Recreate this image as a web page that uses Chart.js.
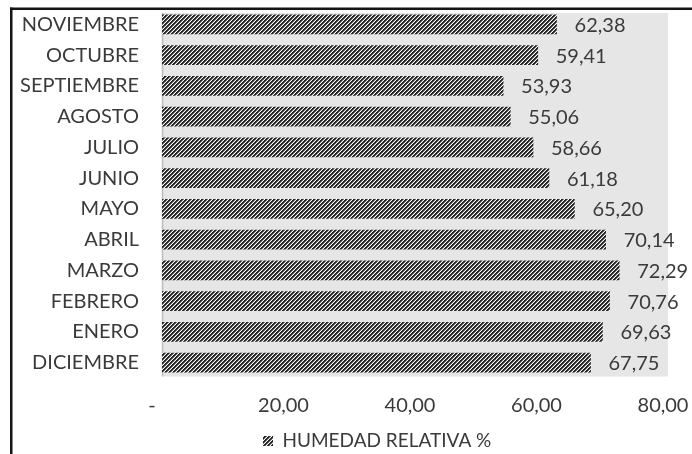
<!DOCTYPE html>
<html>
<head>
<meta charset="utf-8">
<script src="https://cdn.jsdelivr.net/npm/chart.js@4.4.1/dist/chart.umd.min.js"></script>
<style>
  html, body { margin: 0; padding: 0; background: #ffffff; }
  #wrap { position: relative; width: 692px; height: 454px; }
</style>
</head>
<body>
<div id="wrap"><canvas id="chart" width="692" height="454"></canvas></div>
<script>
// Monthly relative humidity (%)
const categories = ['NOVIEMBRE', 'OCTUBRE', 'SEPTIEMBRE', 'AGOSTO', 'JULIO', 'JUNIO',
                    'MAYO', 'ABRIL', 'MARZO', 'FEBRERO', 'ENERO', 'DICIEMBRE'];
const humedad = [62.38, 59.41, 53.93, 55.06, 58.66, 61.18, 65.20, 70.14, 72.29, 70.76, 69.63, 67.75];
const xTickValues = [0, 20, 40, 60, 80];
const seriesName = 'HUMEDAD RELATIVA %';

const FONT = 'Lato';
const TEXT = '#3a3a3a';
const SIZE = 20;

const fmt = v => v.toFixed(2).replace('.', ',');

// Upward diagonal hatch fill
function hatch() {
  const c = document.createElement('canvas');
  c.width = 4; c.height = 4;
  const g = c.getContext('2d');
  g.fillStyle = '#ffffff';
  g.fillRect(0, 0, 4, 4);
  for (let y = 0; y < 4; y++) {
    for (let x = 0; x < 4; x++) {
      const k = (x + y) % 4;
      if (k === 0 || k === 1) { g.fillStyle = '#262626'; g.fillRect(x, y, 1, 1); }
      else if (k === 2) { g.fillStyle = '#7a7a7a'; g.fillRect(x, y, 1, 1); }
    }
  }
  return g.createPattern(c, 'repeat');
}
const hatchFill = hatch();

const framePlugin = {
  id: 'frame',
  beforeDraw(chart) {
    const ctx = chart.ctx;
    const a = chart.chartArea;
    ctx.save();
    ctx.fillStyle = '#ffffff';
    ctx.fillRect(0, 0, chart.width, chart.height);
    // outer frame (left and top edges)
    ctx.fillStyle = '#151515';
    ctx.fillRect(10, 7.5, chart.width - 10, 2.5);
    ctx.fillRect(10, 7.5, 2.5, chart.height - 7.5);
    // plot area background
    ctx.fillStyle = '#e6e6e6';
    ctx.fillRect(a.left, 13, a.right - a.left, 376.5 - 13);
    // category axis line
    ctx.strokeStyle = '#bdbdbd';
    ctx.lineWidth = 1.5;
    ctx.beginPath();
    ctx.moveTo(a.left + 0.5, 13);
    ctx.lineTo(a.left + 0.5, 376.5);
    ctx.stroke();
    ctx.restore();
    // legend placement
    const lg = chart.legend;
    if (lg) {
      const p = lg.options.labels.padding;
      const w = lg.right - lg.left;
      lg.left = 263 - p;
      lg.right = lg.left + w;
      lg.top = 441 - p - 9.5;
    }
  },
  afterDatasetsDraw(chart) {
    const ctx = chart.ctx;
    const meta = chart.getDatasetMeta(0);
    ctx.save();
    ctx.font = SIZE + 'px ' + FONT;
    ctx.fillStyle = TEXT;
    ctx.textAlign = 'left';
    ctx.textBaseline = 'middle';
    meta.data.forEach((bar, i) => {
      ctx.fillText(fmt(humedad[i]), bar.x + 18, bar.y + 1);
    });
    ctx.restore();
  }
};

new Chart(document.getElementById('chart'), {
  type: 'bar',
  data: {
    labels: categories,
    datasets: [{
      label: seriesName,
      data: humedad,
      backgroundColor: hatchFill,
      borderWidth: 0,
      barThickness: 19
    }]
  },
  plugins: [framePlugin],
  options: {
    indexAxis: 'y',
    responsive: false,
    animation: false,
    layout: { padding: { top: 9, left: 0, right: 24, bottom: 0 } },
    plugins: {
      tooltip: { enabled: false },
      legend: {
        position: 'bottom',
        align: 'start',
        labels: {
          boxWidth: 10,
          boxHeight: 10,
          padding: 4,
          color: TEXT,
          font: { family: FONT, size: 19 }
        }
      }
    },
    scales: {
      x: {
        min: 0,
        max: 80,
        afterBuildTicks: s => { s.ticks = xTickValues.map(v => ({ value: v })); },
        afterFit: s => { s.height = 43; s.paddingLeft = 0; s.paddingRight = 0; },
        grid: { display: false, drawTicks: false },
        border: { display: false },
        ticks: {
          padding: 16,
          labelOffset: -5,
          color: TEXT,
          font: { family: FONT, size: SIZE },
          callback: v => (v === 0 ? '-  ' : fmt(v))
        }
      },
      y: {
        offset: true,
        afterFit: s => { s.width = 162; s.paddingTop = 0; s.paddingBottom = 0; },
        grid: { display: true, color: 'rgba(0,0,0,0)', drawOnChartArea: false, drawTicks: true, tickLength: 23 },
        border: { display: false },
        ticks: {
          padding: 0,
          color: TEXT,
          font: { family: FONT, size: SIZE }
        }
      }
    }
  }
});
</script>
</body>
</html>
